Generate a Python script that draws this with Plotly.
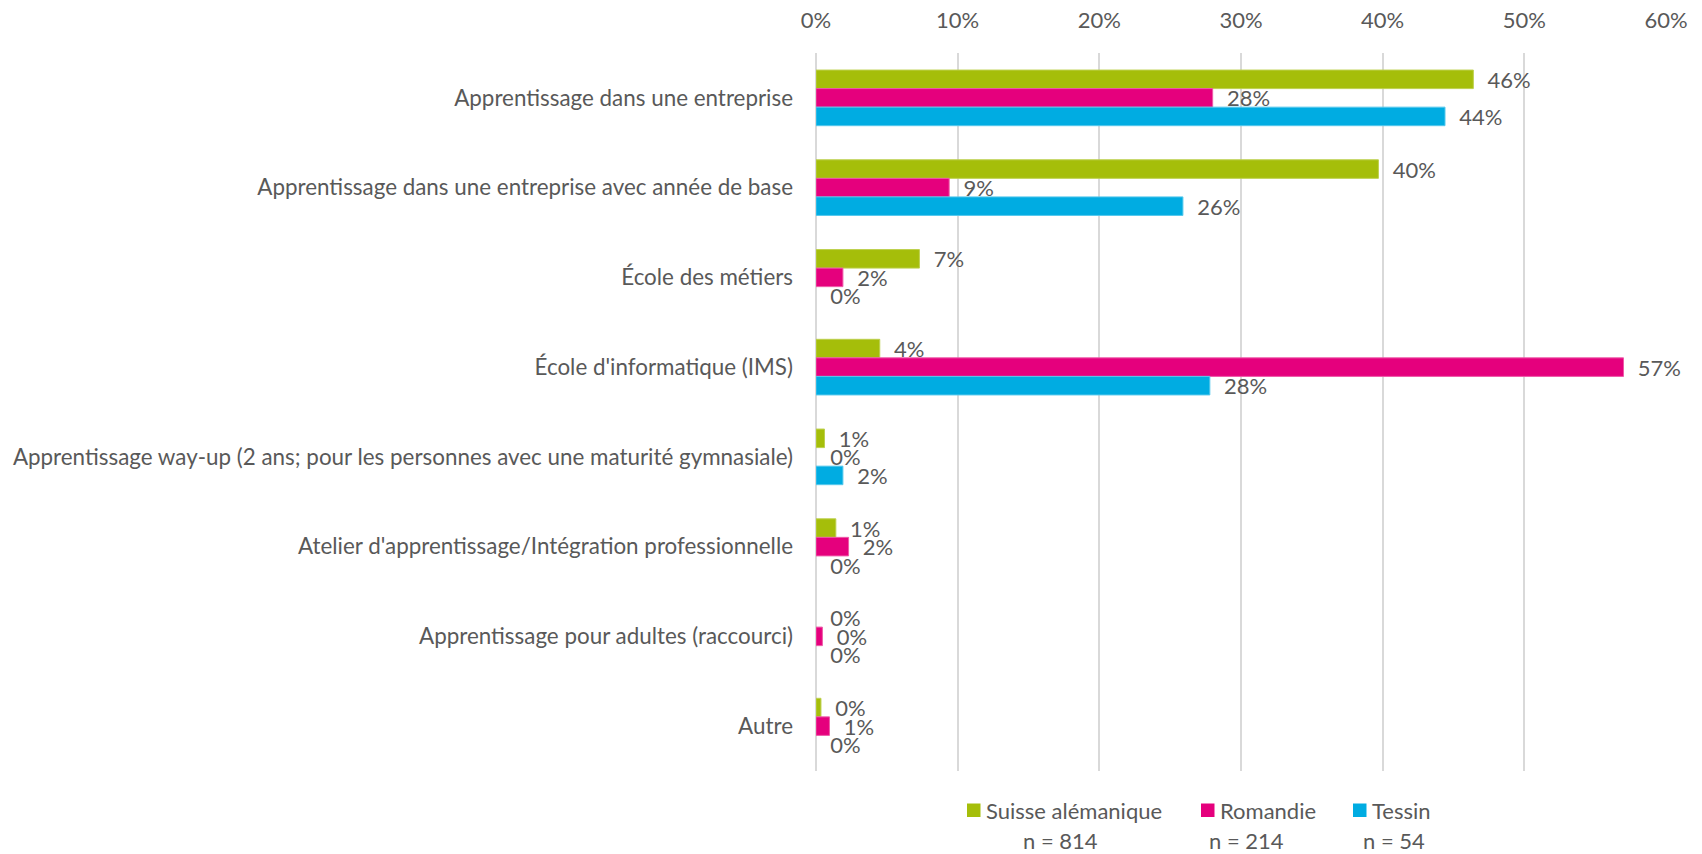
import plotly.graph_objects as go

categories = [
    "Apprentissage dans une entreprise",
    "Apprentissage dans une entreprise avec année de base",
    "École des métiers",
    "École d'informatique (IMS)",
    "Apprentissage way-up (2 ans; pour les personnes avec une maturité gymnasiale)",
    "Atelier d'apprentissage/Intégration professionnelle",
    "Apprentissage pour adultes (raccourci)",
    "Autre",
]
suisse_alemanique = [46.4, 39.7, 7.3, 4.5, 0.6, 1.4, 0.0, 0.35]
romandie = [28.0, 9.4, 1.9, 57.0, 0.0, 2.3, 0.45, 0.95]
tessin = [44.4, 25.9, 0.0, 27.8, 1.9, 0.0, 0.0, 0.0]

series_names = ["Suisse alémanique", "Romandie", "Tessin"]
series_n = ["n = 814", "n = 214", "n = 54"]
series_values = [suisse_alemanique, romandie, tessin]
colors = ["#A5BE0A", "#E5007D", "#00ACE2"]
edge_colors = ["#BDD04E", "#EE5AA8", "#55C8EC"]
tick_vals = [0, 10, 20, 30, 40, 50, 60]
tick_text = ["0%", "10%", "20%", "30%", "40%", "50%", "60%"]

FONT = "Lato, Liberation Sans, sans-serif"
TXT = "#595959"
FS = 22

W, H = 1702, 854
L, R, T, B = 816, 36, 53, 83

fig = go.Figure()
for name, vals, c, ec in zip(series_names, series_values, colors, edge_colors):
    fig.add_trace(go.Bar(
        y=categories, x=vals, name=name, orientation="h",
        marker=dict(color=c, line=dict(color=ec, width=[1 if v > 0 else 0 for v in vals])),
        text=[f"{v:.0f}%" for v in vals],
        texttemplate="\u00a0\u00a0%{text}",
        textposition="outside", constraintext="none", cliponaxis=False,
        textfont=dict(family=FONT, size=FS, color=TXT),
        showlegend=False,
    ))

# manual legend (layout decoration): pixel -> paper conversion
pw, ph = W - L - R, H - T - B
def px2x(px):
    return (px - L) / pw
def py2y(py):
    return (H - B - py) / ph

legend_sq_x = [967, 1201, 1353]
legend_n_cx = [1060, 1246, 1394]
shapes = []
annotations = []
for i in range(3):
    x0 = legend_sq_x[i]
    shapes.append(dict(type="rect", xref="paper", yref="paper",
                       x0=px2x(x0), x1=px2x(x0 + 13.5),
                       y0=py2y(817), y1=py2y(803.5),
                       fillcolor=colors[i], line=dict(width=0)))
    annotations.append(dict(xref="paper", yref="paper", x=px2x(x0 + 17), y=py2y(810),
                            text=series_names[i], showarrow=False, xanchor="left",
                            yanchor="middle", font=dict(family=FONT, size=FS, color=TXT)))
    annotations.append(dict(xref="paper", yref="paper", x=px2x(legend_n_cx[i]), y=py2y(840),
                            text=series_n[i], showarrow=False, xanchor="center",
                            yanchor="middle", font=dict(family=FONT, size=FS, color=TXT)))

fig.update_layout(
    width=W, height=H,
    margin=dict(l=L, r=R, t=T, b=B, autoexpand=False),
    barmode="group", bargap=0.38, bargroupgap=0,
    plot_bgcolor="white", paper_bgcolor="white",
    font=dict(family=FONT, size=FS, color=TXT),
    shapes=shapes, annotations=annotations,
    xaxis=dict(side="top", range=[0, 60], tickvals=tick_vals, ticktext=tick_text,
               showgrid=True, gridcolor="#D9D9D9", gridwidth=1.5,
               zeroline=True, zerolinecolor="#D9D9D9", zerolinewidth=1.5,
               showline=False, ticks="", ticklabelstandoff=20,
               tickfont=dict(family=FONT, size=FS, color=TXT), fixedrange=True),
    yaxis=dict(autorange="reversed", showgrid=False, zeroline=False, showline=False,
               ticks="", ticklabelstandoff=22,
               tickfont=dict(family=FONT, size=22.4, color=TXT), fixedrange=True),
)

fig.write_html("out.html", config={"displayModeBar": False},
               post_script="document.body.style.margin='0';")
